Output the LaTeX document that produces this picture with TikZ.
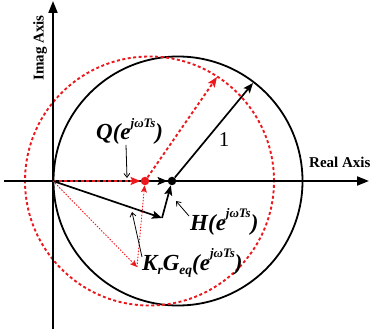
\documentclass[tikz,border=0pt]{standalone}
\usepackage{fontspec}
\setmainfont{Liberation Serif}
\usetikzlibrary{arrows.meta}
\definecolor{myred}{RGB}{235,25,30}
\newcommand\supx[1]{\raisebox{12.5pt}{\fontsize{13}{13}\selectfont #1}}
\newcommand\subx[1]{\raisebox{-4.5pt}{\fontsize{13.5}{13.5}\selectfont #1}}
\begin{document}
\begin{tikzpicture}[x=1pt,y=1pt,
  axis/.style={line width=1.9pt, -{Triangle[length=12pt,width=9pt]}},
  vec/.style={line width=1.7pt, -{Stealth[length=10pt,width=8pt,inset=2pt]}},
  redvec/.style={myred, line width=1.9pt, dash pattern=on 3pt off 2.5pt, -{Stealth[length=10pt,width=8pt,inset=2pt]}},
  thinred/.style={myred, line width=0.9pt, dash pattern=on 1.5pt off 1.5pt, -{Stealth[length=7pt,width=6pt,inset=1.5pt]}},
  leader/.style={line width=0.8pt, -{Straight Barb[length=4pt,width=6pt]}},
  lbl/.style={inner sep=0pt, anchor=base west, font=\fontsize{23}{23}\selectfont\bfseries\itshape},
  axlbl/.style={inner sep=0pt, font=\fontsize{15}{15}\selectfont\bfseries},
  dot/.style={circle, inner sep=0pt, minimum size=8.5pt}
]
\useasboundingbox (0,0) rectangle (371,329);

% circles
\draw[line width=1.8pt] (178,148) circle (124.5);
\draw[myred, line width=1.9pt, dash pattern=on 3pt off 2.5pt] (149.5,148) circle (124.5);

% key points
\coordinate (O) at (53,148);
\coordinate (P) at (162,111);
\coordinate (K) at (137,62);
\coordinate (T1) at (253,246);
\coordinate (T2) at (217,252);
\coordinate (Xl) at (4,148);
\coordinate (Xr) at (369,148);
\coordinate (Yb) at (53,0);
\coordinate (Yt) at (53,328);

% axes
\draw[axis] (Xl) -- (Xr);
\draw[axis] (Yb) -- (Yt);

% dots
\node[dot, fill=myred] (R) at (145,148) {};
\node[dot, fill=black] (B) at (172,148) {};

% vectors
\draw[redvec] (O) -- (R);
\draw[vec] (R) -- (B);
\draw[vec] (B) -- (T1);
\draw[redvec] (R) -- (T2);
\draw[vec] (O) -- (P);
\draw[vec] (P) -- (B);
\draw[thinred] (O) -- (K);
\draw[thinred] (K) -- (R);

% labels
\node[font=\fontsize{21}{21}\selectfont] (one) at (224,189) {1};
\node[lbl] (Q) at (96,189) {Q(e\supx{jωTs})};
\node[lbl] (H) at (190,99) {H(e\supx{jωTs})};
\node[lbl] (Kr) at (142,59) {K\subx{r}G\subx{eq}(e\supx{jωTs})};
\node[axlbl, rotate=90] (imag) at (40,281) {Imag Axis};
\node[axlbl, anchor=base west] (real) at (309,161) {Real Axis};

% leaders
\coordinate (qa) at (126,184);
\coordinate (qb) at (127,151);
\draw[leader] (qa) -- (qb);
\coordinate (ha) at (189,113);
\coordinate (hb) at (176,128);
\draw[leader] (ha) -- (hb);
\coordinate (ka) at (142,72);
\coordinate (kb) at (132,117);
\draw[leader] (ka) -- (kb);
\end{tikzpicture}
\end{document}
